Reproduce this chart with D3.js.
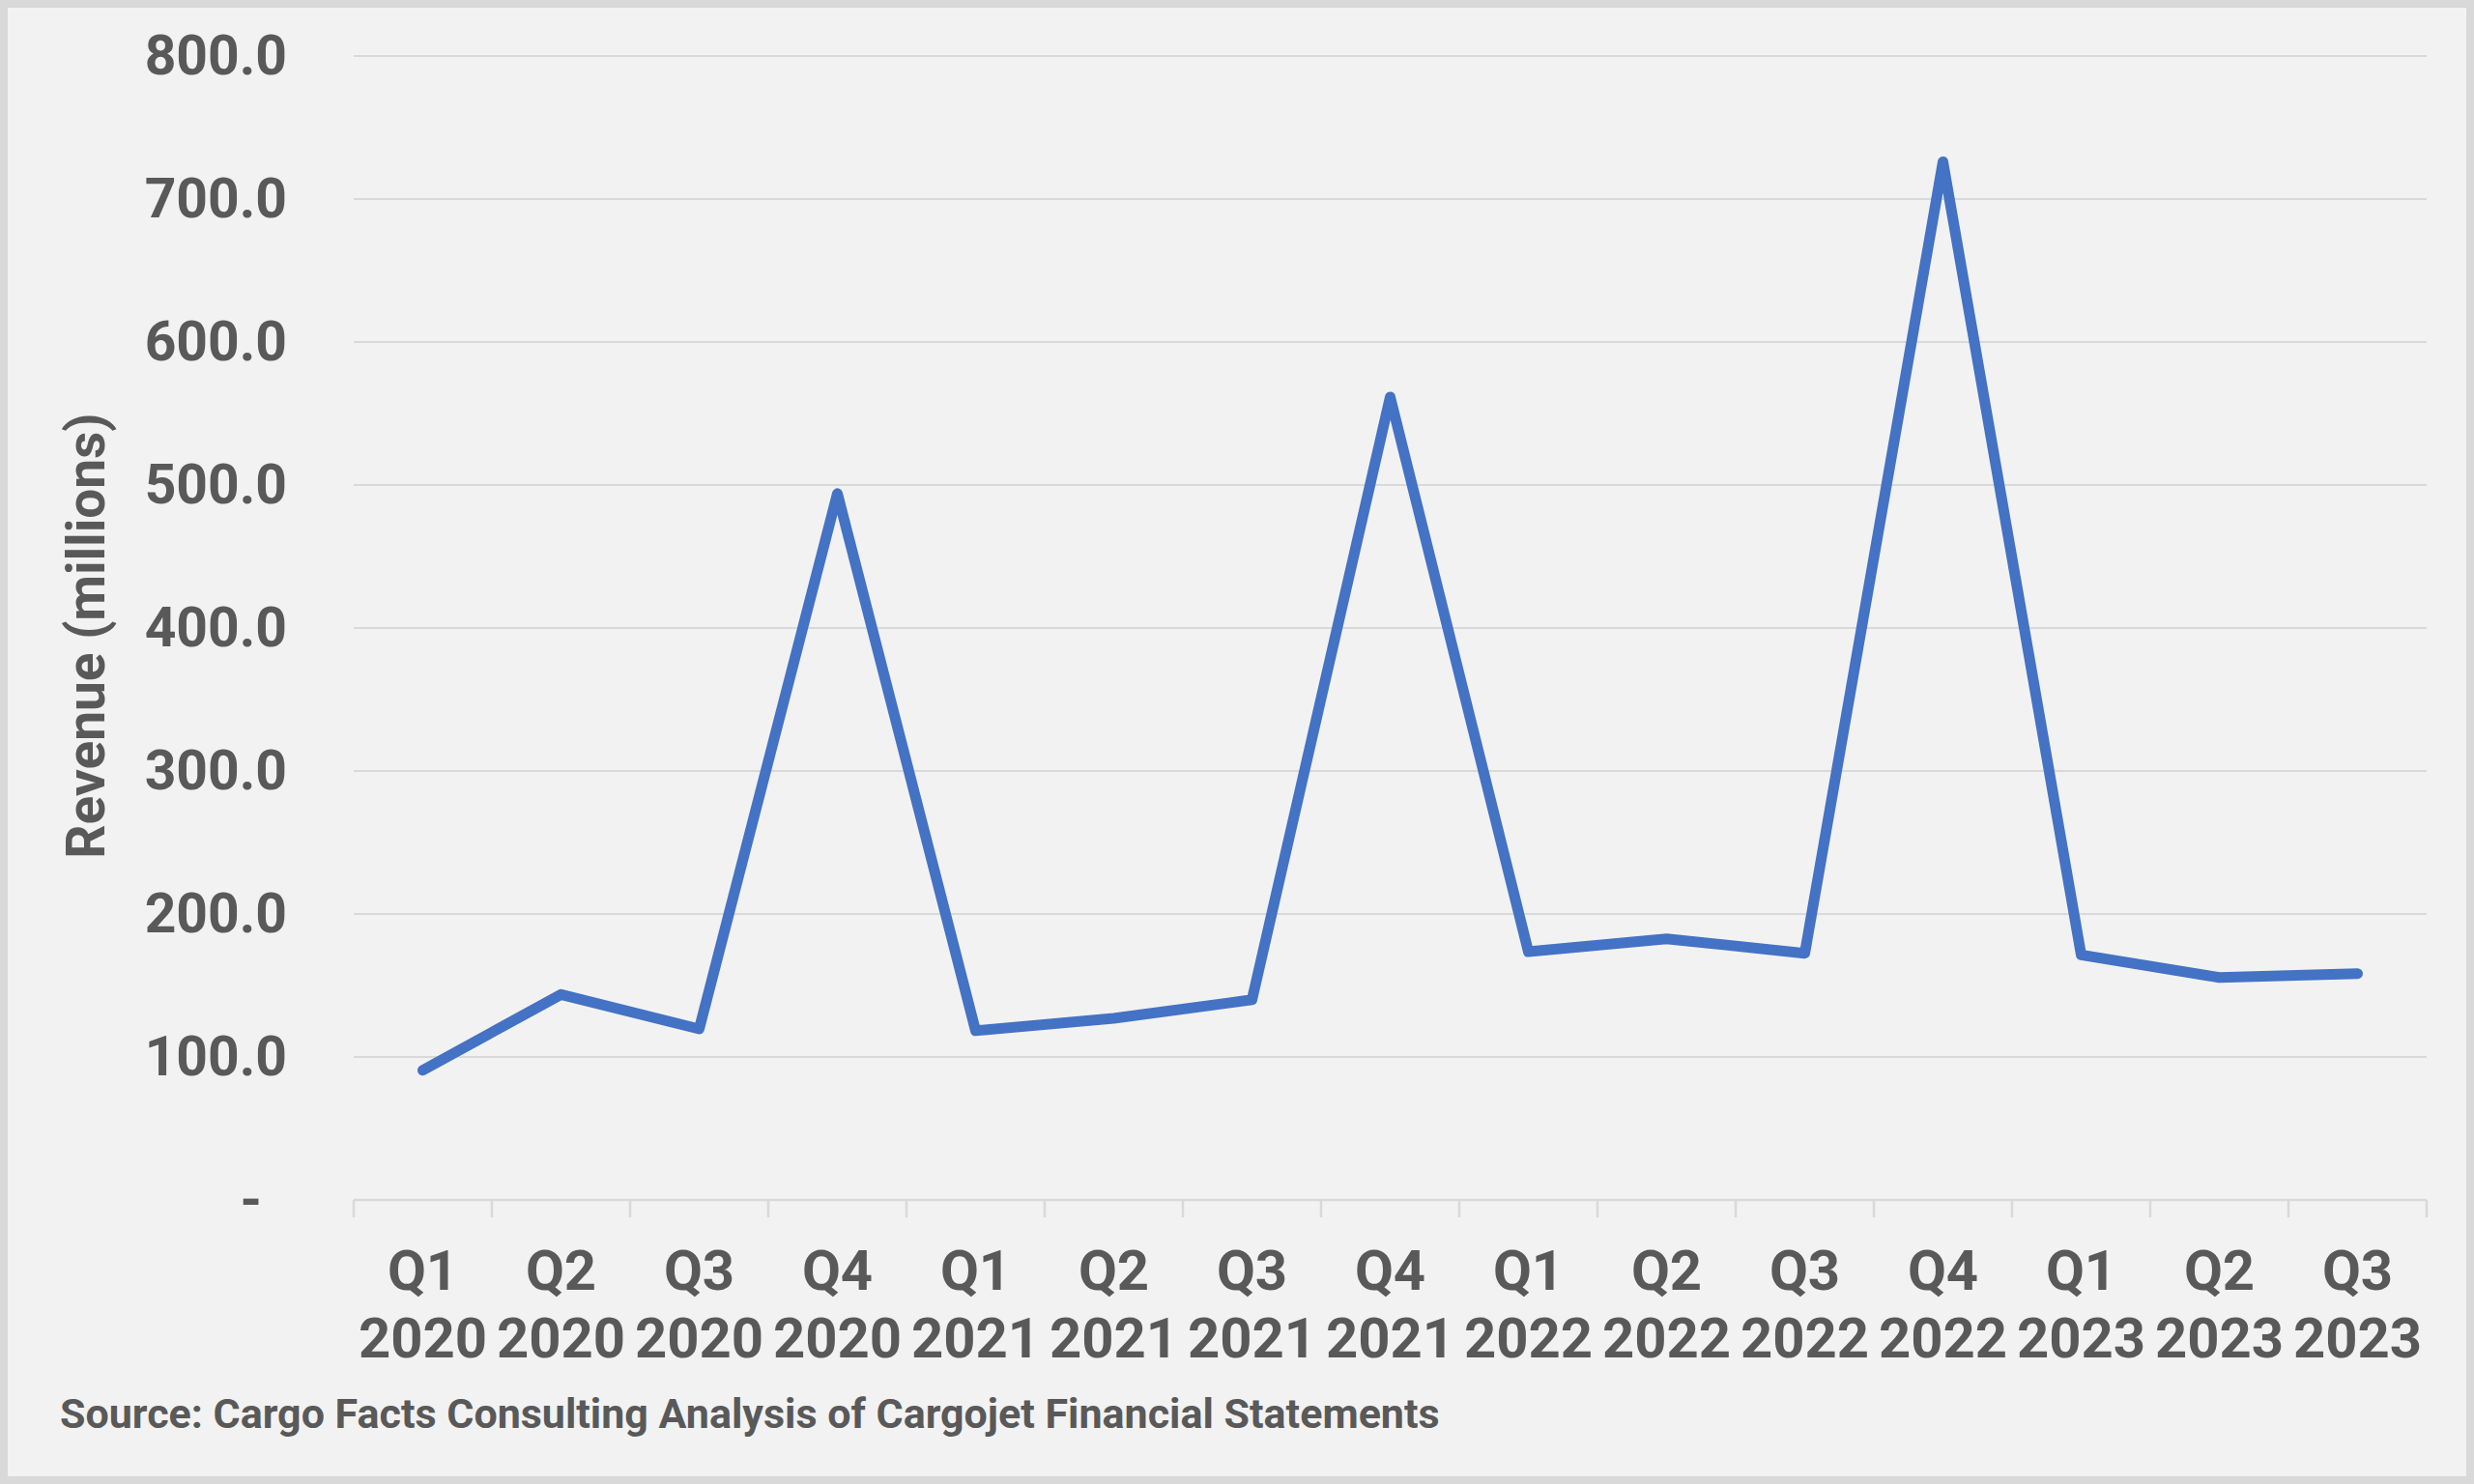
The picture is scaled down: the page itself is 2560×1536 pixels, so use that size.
<!DOCTYPE html>
<html>
<head>
<meta charset="utf-8">
<script src="https://cdn.jsdelivr.net/npm/d3@7"></script>
<style>
  html, body { margin: 0; padding: 0; background: #d9d9d9; }
  svg { display: block; }
  text { font-family: Roboto, "Noto Sans", sans-serif; font-weight: bold; fill: #595959; }
</style>
</head>
<body>
<svg id="chart" width="2560" height="1536"></svg>
<script>
// ---- data ----
const quarters = ["Q1","Q2","Q3","Q4","Q1","Q2","Q3","Q4","Q1","Q2","Q3","Q4","Q1","Q2","Q3"];
const years    = ["2020","2020","2020","2020","2021","2021","2021","2021","2022","2022","2022","2022","2023","2023","2023"];
const revenue  = [90.7, 143.7, 119.6, 494.0, 118.4, 127.0, 140.0, 561.5, 173.6, 182.6, 172.5, 726.0, 171.4, 155.6, 158.3];
const yTicks   = [0, 100, 200, 300, 400, 500, 600, 700, 800];
const yTitle   = "Revenue (millions)";
const sourceText = "Source: Cargo Facts Consulting Analysis of Cargojet Financial Statements";

const categories = quarters.map((q, i) => q + " " + years[i]);

const svg = d3.select("#chart");
const W = 2560, H = 1536;

// panel background with border
svg.append("rect").attr("x", 0).attr("y", 0).attr("width", W).attr("height", H).attr("fill", "#d9d9d9");
svg.append("rect").attr("x", 8).attr("y", 8).attr("width", W - 16).attr("height", H - 16).attr("fill", "#f2f2f2");

const pLeft = 366, pRight = 2511, pTop = 58, pBottom = 1242;

const x = d3.scaleBand().domain(categories).range([pLeft, pRight]).paddingInner(0).paddingOuter(0);
const y = d3.scaleLinear().domain([0, 800]).range([pBottom, pTop]);

// gridlines
svg.append("g").selectAll("line").data(yTicks.filter(d => d > 0)).join("line")
  .attr("x1", pLeft).attr("x2", pRight)
  .attr("y1", d => y(d)).attr("y2", d => y(d))
  .attr("stroke", "#d9d9d9").attr("stroke-width", 2);

// x axis line
svg.append("line").attr("x1", pLeft).attr("x2", pRight).attr("y1", y(0)).attr("y2", y(0))
  .attr("stroke", "#d9d9d9").attr("stroke-width", 2.5);

// boundary ticks
const bounds = categories.map(c => x(c)).concat([x(categories[categories.length - 1]) + x.bandwidth()]);
svg.append("g").selectAll("line").data(bounds).join("line")
  .attr("x1", d => d).attr("x2", d => d)
  .attr("y1", y(0)).attr("y2", y(0) + 18)
  .attr("stroke", "#d9d9d9").attr("stroke-width", 2.5);

// y tick labels
const fmt = d3.format(".1f");
svg.append("g").selectAll("text").data(yTicks).join("text")
  .attr("x", d => d === 0 ? 271 : 297)
  .attr("y", d => y(d))
  .attr("dy", "0.33em")
  .attr("text-anchor", "end")
  .attr("font-size", 57)
  .text(d => d === 0 ? "-" : fmt(d));

// y title
svg.append("text")
  .attr("transform", `translate(${108},${(pTop + pBottom) / 2 + 8}) rotate(-90)`)
  .attr("text-anchor", "middle")
  .attr("font-size", 55)
  .text(yTitle);

// x labels
const xl = svg.append("g").selectAll("text").data(categories).join("text")
  .attr("text-anchor", "middle")
  .attr("font-size", 58)
  .attr("transform", d => `translate(${x(d) + x.bandwidth() / 2},0)`);
xl.append("tspan").attr("x", 0).attr("y", 1335).text((d, i) => quarters[i]);
xl.append("tspan").attr("x", 0).attr("y", 1405).text((d, i) => years[i]);

// line
const line = d3.line()
  .x((d, i) => x(categories[i]) + x.bandwidth() / 2)
  .y(d => y(d));
svg.append("path").datum(revenue)
  .attr("d", line)
  .attr("fill", "none")
  .attr("stroke", "#4472c4")
  .attr("stroke-width", 11)
  .attr("stroke-linejoin", "round")
  .attr("stroke-linecap", "round");

// source
svg.append("text")
  .attr("x", 62).attr("y", 1478)
  .attr("font-size", 43)
  .text(sourceText);
</script>
</body>
</html>
